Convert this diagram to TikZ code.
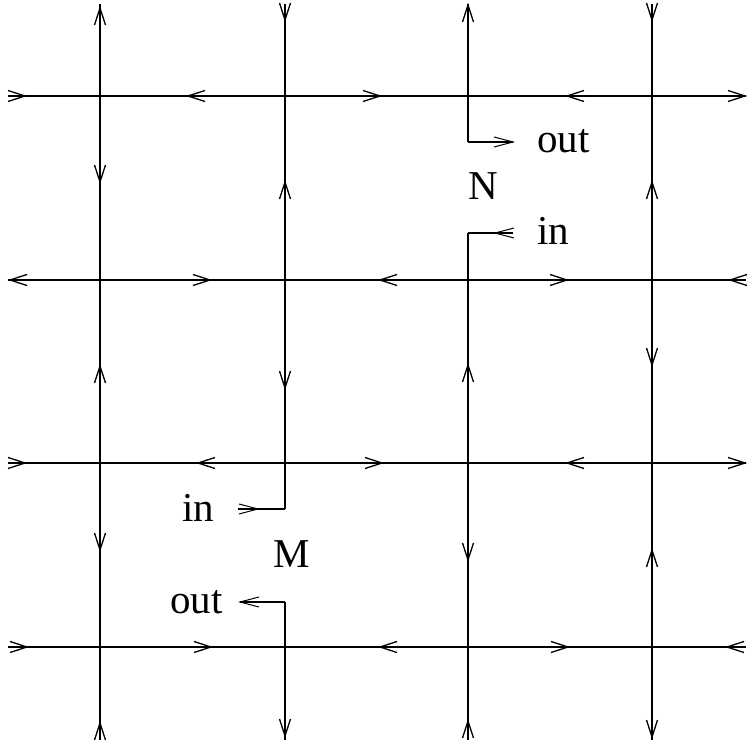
\documentclass[tikz,border=0pt]{standalone}
\usepackage{fontspec}
\setmainfont{Liberation Serif}
\begin{document}
\begin{tikzpicture}[x=1pt,y=-1pt,
  gridline/.style={line width=2pt},
  stub/.style={line width=1.1pt},
  lbl/.style={inner sep=0pt, anchor=base west, font=\fontsize{41}{41}\selectfont},
  vee/.pic={\draw[line width=1.3pt] (-17,-5.5) -- (0,0) -- (-17,5.5);},
  veestub/.pic={\draw[line width=1pt] (-19,-5) -- (0,0) -- (-19,5);}
]
\useasboundingbox (0,0) rectangle (747,743);
\newcommand{\ahd}[3]{\pic[rotate=#3] at (#1,#2) {vee};}
\newcommand{\ahs}[3]{\pic[rotate=#3] at (#1,#2) {veestub};}

% grid coordinates
\coordinate (AT) at (100,4);   \coordinate (AB) at (100,740);
\coordinate (BT) at (285,4);   \coordinate (BB) at (285,740);
\coordinate (CT) at (468,4);   \coordinate (CB) at (468,740);
\coordinate (DT) at (652,4);   \coordinate (DB) at (652,740);
\coordinate (H1L) at (8,96);   \coordinate (H1R) at (746,96);
\coordinate (H2L) at (8,280);  \coordinate (H2R) at (746,280);
\coordinate (H3L) at (8,463);  \coordinate (H3R) at (746,463);
\coordinate (H4L) at (8,647);  \coordinate (H4R) at (746,647);
% corners of the in/out connectors
\coordinate (Mi) at (285,509); \coordinate (Mie) at (238,509);
\coordinate (Mo) at (285,602); \coordinate (Moe) at (240,602);
\coordinate (No) at (468,142); \coordinate (Noe) at (513,142);
\coordinate (Ni) at (468,233); \coordinate (Nie) at (513,233);

% horizontal lines
\draw[gridline] (H1L) -- (H1R);
\draw[gridline] (H2L) -- (H2R);
\draw[gridline] (H3L) -- (H3R);
\draw[gridline] (H4L) -- (H4R);
% vertical lines
\draw[gridline] (AT) -- (AB);
\draw[gridline] (DT) -- (DB);
\draw[gridline] (BT) -- (Mi);
\draw[gridline] (Mo) -- (BB);
\draw[gridline] (CT) -- (No);
\draw[gridline] (Ni) -- (CB);
% stubs
\draw[stub] (Mie) -- (Mi);
\draw[stub] (Mo) -- (Moe);
\draw[stub] (No) -- (Noe);
\draw[stub] (Nie) -- (Ni);

% arrowheads on vertical lines
\ahd{100}{8}{90}   \ahd{100}{182}{-90} \ahd{100}{366}{90} \ahd{100}{550}{-90} \ahd{100}{723}{90}
\ahd{285}{20}{-90} \ahd{285}{182}{90}  \ahd{285}{388}{-90} \ahd{285}{736}{-90}
\ahd{468}{5}{90}   \ahd{468}{365}{90}  \ahd{468}{560}{-90} \ahd{468}{721}{90}
\ahd{652}{20}{-90} \ahd{652}{182}{90}  \ahd{652}{365}{-90} \ahd{652}{550}{90} \ahd{652}{737}{-90}
% arrowheads on horizontal lines
\ahd{25}{96}{0}    \ahd{188}{96}{180}  \ahd{380}{96}{0}    \ahd{567}{96}{180}  \ahd{745}{96}{0}
\ahd{10}{280}{180} \ahd{210}{280}{0}   \ahd{380}{280}{180} \ahd{567}{280}{0}   \ahd{730}{280}{180}
\ahd{25}{463}{0}   \ahd{198}{463}{180} \ahd{382}{463}{0}   \ahd{567}{463}{180} \ahd{745}{463}{0}
\ahd{27}{647}{0}   \ahd{211}{647}{0}   \ahd{380}{647}{180} \ahd{568}{647}{0}   \ahd{727}{647}{180}
% arrowheads on stubs
\ahs{258}{509}{0}
\ahs{240}{602}{180}
\ahs{513}{142}{0}
\ahs{495}{233}{180}

% labels
\node[lbl] (outN) at (537,153) {out};
\node[lbl] (inN)  at (537,245) {in};
\node[lbl] (labN) at (468,200) {N};
\node[lbl] (inM)  at (182,521) {in};
\node[lbl] (labM) at (273,567) {M};
\node[lbl] (outM) at (170,613) {out};
\end{tikzpicture}
\end{document}
